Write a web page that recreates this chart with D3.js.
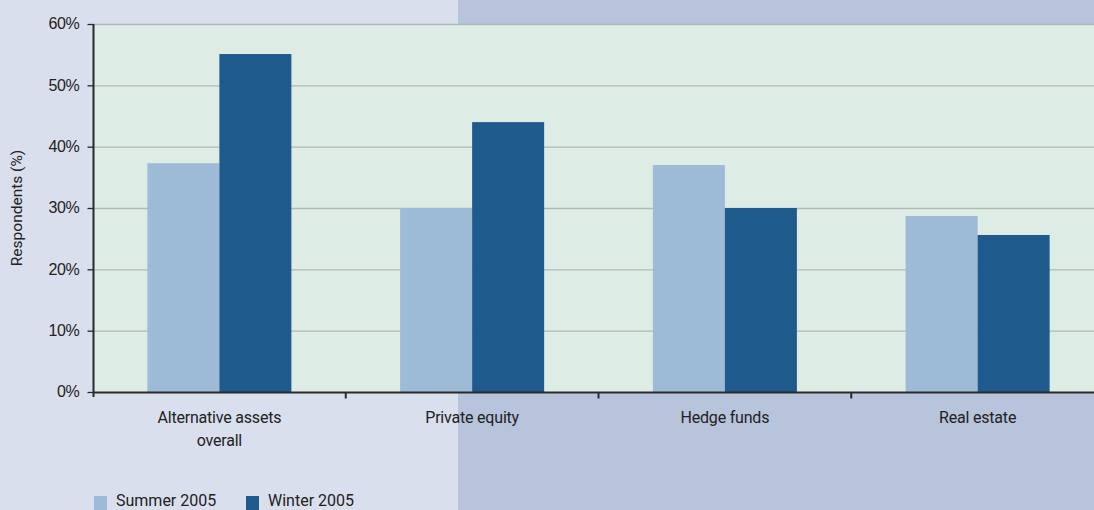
<!DOCTYPE html>
<html><head><meta charset="utf-8">
<script src="https://cdn.jsdelivr.net/npm/d3@7"></script>
<style>
html,body{margin:0;padding:0;background:#b8c3dc;}
svg{display:block;font-family:Roboto,"Open Sans",sans-serif;}
</style></head>
<body>
<svg id="chart" width="1094" height="510"></svg>
<script>
const categories = [["Alternative assets","overall"],["Private equity"],["Hedge funds"],["Real estate"]];
const seriesNames = ["Summer 2005","Winter 2005"];
const summer2005 = [37.3, 30.0, 37.0, 28.7];
const winter2005 = [55.1, 44.0, 30.0, 25.6];
const yTicks = [0,10,20,30,40,50,60];
const colors = ["#9dbad6","#1f5a8c"];

const svg = d3.select("#chart");
const W = 1094, H = 510;
const m = {left:93, top:24};
const plotRight = 1104;

svg.append("rect").attr("x",0).attr("y",0).attr("width",W).attr("height",H).attr("fill","#b8c3dc");
svg.append("rect").attr("x",0).attr("y",0).attr("width",458).attr("height",H).attr("fill","#d9dfed");

const x = d3.scaleBand().domain(d3.range(categories.length)).range([m.left, plotRight]).paddingInner(0).paddingOuter(0);
const x1 = d3.scaleBand().domain([0,1]).range([0, x.bandwidth()]).paddingInner(0).paddingOuter(0.755);
const y = d3.scaleLinear().domain([0,60]).range([392, 24]);

svg.append("rect").attr("x",m.left).attr("y",y(60)).attr("width",plotRight-m.left).attr("height",y(0)-y(60)).attr("fill","#deece6");

// gridlines
svg.append("g").selectAll("line").data(yTicks.filter(d=>d>0)).join("line")
  .attr("x1",m.left).attr("x2",plotRight).attr("y1",d=>y(d)+0.5).attr("y2",d=>y(d)+0.5)
  .attr("stroke","#b2b8b6").attr("stroke-width",1.3);

// bars
const data = categories.map((c,i)=>[summer2005[i], winter2005[i]]);
const g = svg.append("g");
data.forEach((vals,i)=>{
  g.selectAll(null).data(vals).join("rect")
    .attr("x",(d,j)=>x(i)+x1(j))
    .attr("width",x1.bandwidth())
    .attr("y",d=>y(d))
    .attr("height",d=>y(0)-y(d))
    .attr("fill",(d,j)=>colors[j]);
});

// y axis
const yAxis = d3.axisLeft(y).tickValues(yTicks).tickFormat(d=>d+"%").tickSize(6).tickPadding(8);
const ya = svg.append("g").attr("transform",`translate(${m.left+0.5},0)`).call(yAxis);
ya.select(".domain").attr("stroke","#2a2a2a").attr("stroke-width",2).attr("d",`M0,${y(60)}V${y(0)+5}`);
ya.selectAll(".tick line").attr("stroke","#2a2a2a").attr("stroke-width",1.3);
ya.selectAll(".tick text").attr("fill","#222").style("font-size","16px").style("letter-spacing","-0.3px").attr("dy","0.3em");

// x axis
const xa = svg.append("g").attr("transform",`translate(0,${y(0)+0.5})`);
xa.append("line").attr("x1",m.left).attr("x2",plotRight).attr("y1",0).attr("y2",0).attr("stroke","#2a2a2a").attr("stroke-width",2);
xa.selectAll("line.tk").data(d3.range(1,categories.length)).join("line").attr("class","tk")
  .attr("x1",d=>x(d)).attr("x2",d=>x(d)).attr("y1",0).attr("y2",6).attr("stroke","#2a2a2a").attr("stroke-width",2);
categories.forEach((lines,i)=>{
  const t = xa.append("text").attr("text-anchor","middle").attr("fill","#222").style("font-size","16px").style("letter-spacing","-0.2px")
    .attr("x",x(i)+x.bandwidth()/2).attr("y",30);
  lines.forEach((l,k)=>t.append("tspan").attr("x",x(i)+x.bandwidth()/2).attr("dy",k===0?0:23).text(l));
});

// y label
svg.append("text").attr("transform","translate(22,208) rotate(-90)").attr("text-anchor","middle")
  .attr("fill","#222").style("font-size","15.5px").text("Respondents (%)");

// legend
const legX = [94, 246];
seriesNames.forEach((n,i)=>{
  svg.append("rect").attr("x",legX[i]).attr("y",496).attr("width",13).attr("height",14).attr("fill",colors[i]);
  svg.append("text").attr("x",legX[i]+22).attr("y",506).attr("fill","#222").style("font-size","16px").text(n);
});
</script>
</body></html>
